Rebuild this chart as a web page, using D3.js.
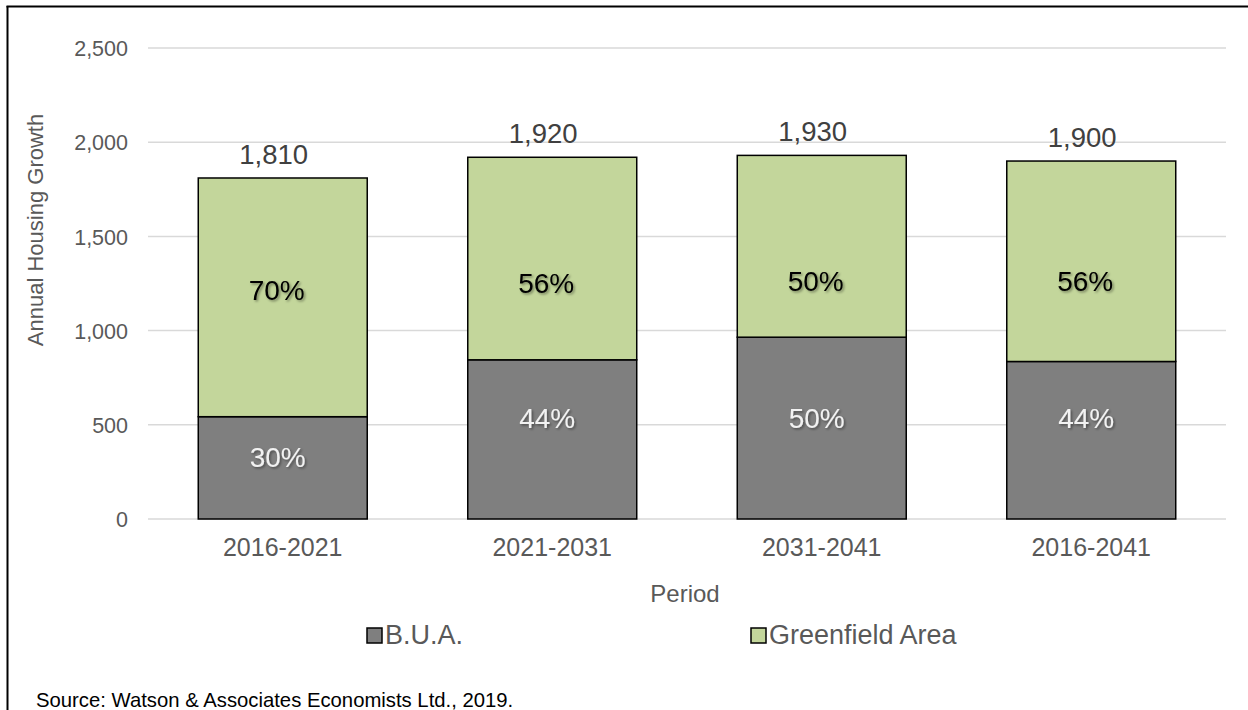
<!DOCTYPE html>
<html>
<head>
<meta charset="utf-8">
<script src="https://cdn.jsdelivr.net/npm/d3@7"></script>
<style>
  html, body { margin: 0; padding: 0; background: #fff; }
  svg { display: block; font-family: "Liberation Sans", Arial, sans-serif; }
</style>
</head>
<body>
<svg id="chart" width="1248" height="710"></svg>
<script>
// Annual housing growth by period, split into built-up area and greenfield
const periods = ["2016-2021", "2021-2031", "2031-2041", "2016-2041"];
const totals = [1810, 1920, 1930, 1900];
const buaShare = [30, 44, 50, 44];          // percent of total in B.U.A.
const greenShare = [70, 56, 50, 56];        // percent of total in Greenfield Area
const buaValues = [543, 845, 965, 836];
const greenValues = [1267, 1075, 965, 1064];
const yTicks = [0, 500, 1000, 1500, 2000, 2500];
const seriesNames = ["B.U.A.", "Greenfield Area"];
const seriesColors = ["#7f7f7f", "#c3d69b"];

const svg = d3.select("#chart");
const W = 1248, H = 710;
const plot = { left: 148, right: 1226, top: 48, bottom: 519 };
const FONT = "Liberation Sans, Arial, sans-serif";

// Frame lines along the left and top
svg.append("line").attr("x1", 7.5).attr("x2", 7.5).attr("y1", 6).attr("y2", H)
  .attr("stroke", "#000").attr("stroke-width", 2);
svg.append("line").attr("x1", 6.5).attr("x2", W).attr("y1", 6.5).attr("y2", 6.5)
  .attr("stroke", "#000").attr("stroke-width", 2);

const x = d3.scaleBand().domain(periods).range([plot.left, plot.right])
  .paddingInner(0.373).paddingOuter(0.1865);
const y = d3.scaleLinear().domain([0, 2500]).range([plot.bottom, plot.top]);

// Gridlines
svg.append("g").selectAll("line").data(yTicks).join("line")
  .attr("x1", plot.left).attr("x2", plot.right)
  .attr("y1", d => y(d)).attr("y2", d => y(d))
  .attr("stroke", "#d9d9d9").attr("stroke-width", 1.5);

// Y axis labels
const yAxis = d3.axisLeft(y).tickValues(yTicks).tickSize(0).tickPadding(0).tickFormat(d3.format(","));
const yg = svg.append("g").attr("transform", "translate(128,0)").call(yAxis);
yg.select(".domain").remove();
yg.selectAll("text").attr("font-size", 21.5).attr("fill", "#595959")
  .attr("font-family", FONT).attr("dy", "0.36em");

// X axis labels
const xAxis = d3.axisBottom(x).tickSize(0).tickPadding(0);
const xg = svg.append("g").attr("transform", `translate(0,${plot.bottom + 37})`).call(xAxis);
xg.select(".domain").remove();
xg.selectAll("text").attr("font-size", 25).attr("fill", "#595959")
  .attr("font-family", FONT).attr("dy", 0);

// Stacked data
const rows = periods.map((p, i) => ({ period: p, bua: buaValues[i], green: greenValues[i] }));
const stack = d3.stack().keys(["bua", "green"])(rows);

const defs = svg.append("defs");
const f = defs.append("filter").attr("id", "shadow")
  .attr("x", "-20%").attr("y", "-20%").attr("width", "140%").attr("height", "140%");
f.append("feDropShadow").attr("dx", 1.5).attr("dy", 1.5).attr("stdDeviation", 1.2)
  .attr("flood-color", "#000").attr("flood-opacity", 0.4);

svg.append("g").selectAll("g").data(stack).join("g")
  .attr("fill", (d, i) => seriesColors[i])
  .selectAll("rect").data(d => d).join("rect")
  .attr("x", d => x(d.data.period))
  .attr("width", x.bandwidth())
  .attr("y", d => y(d[1]))
  .attr("height", d => y(d[0]) - y(d[1]))
  .attr("stroke", "#000").attr("stroke-width", 1.5);

// Total labels above bars (sit slightly left of the bar centre)
const mid = d => x(d) + x.bandwidth() / 2;
svg.append("g").selectAll("text").data(periods).join("text")
  .attr("x", d => mid(d) - 9)
  .attr("y", (d, i) => y(totals[i]) - 14)
  .attr("text-anchor", "middle").attr("font-size", 27.5).attr("fill", "#404040")
  .text((d, i) => d3.format(",")(totals[i]));

// Percentage labels: placed at a chosen height (in axis units) within each segment
const buaLabelAt = [330, 535, 535, 535];
const greenLabelAt = [1215, 1255, 1265, 1265];
const pctGroup = svg.append("g").attr("font-size", 28).attr("text-anchor", "middle");
pctGroup.selectAll("text.bua").data(periods).join("text").attr("class", "bua")
  .attr("x", d => mid(d) - 5)
  .attr("y", (d, i) => y(buaLabelAt[i]))
  .attr("dy", "0.36em")
  .attr("fill", "#f2f2f2").attr("filter", "url(#shadow)")
  .text((d, i) => buaShare[i] + "%");
pctGroup.selectAll("text.green").data(periods).join("text").attr("class", "green")
  .attr("x", d => mid(d) - 6)
  .attr("y", (d, i) => y(greenLabelAt[i]))
  .attr("dy", "0.36em")
  .attr("fill", "#000").attr("filter", "url(#shadow)")
  .text((d, i) => greenShare[i] + "%");

// Axis titles
svg.append("text").attr("transform", "translate(43,230) rotate(-90)")
  .attr("text-anchor", "middle").attr("font-size", 22).attr("fill", "#595959")
  .text("Annual Housing Growth");
svg.append("text").attr("x", 685).attr("y", 602)
  .attr("text-anchor", "middle").attr("font-size", 24).attr("fill", "#595959")
  .text("Period");

// Legend
const legendX = [367, 751];
const lg = svg.append("g").selectAll("g").data(seriesNames).join("g")
  .attr("transform", (d, i) => `translate(${legendX[i]},628)`);
lg.append("rect").attr("width", 15).attr("height", 15)
  .attr("fill", (d, i) => seriesColors[i]).attr("stroke", "#000").attr("stroke-width", 1.5);
lg.append("text").attr("x", 18).attr("y", 15.5).attr("font-size", 27).attr("fill", "#595959")
  .text(d => d);

// Source note
svg.append("text").attr("x", 36).attr("y", 707).attr("font-size", 20.3).attr("fill", "#000")
  .text("Source: Watson & Associates Economists Ltd., 2019.");
</script>
</body>
</html>
